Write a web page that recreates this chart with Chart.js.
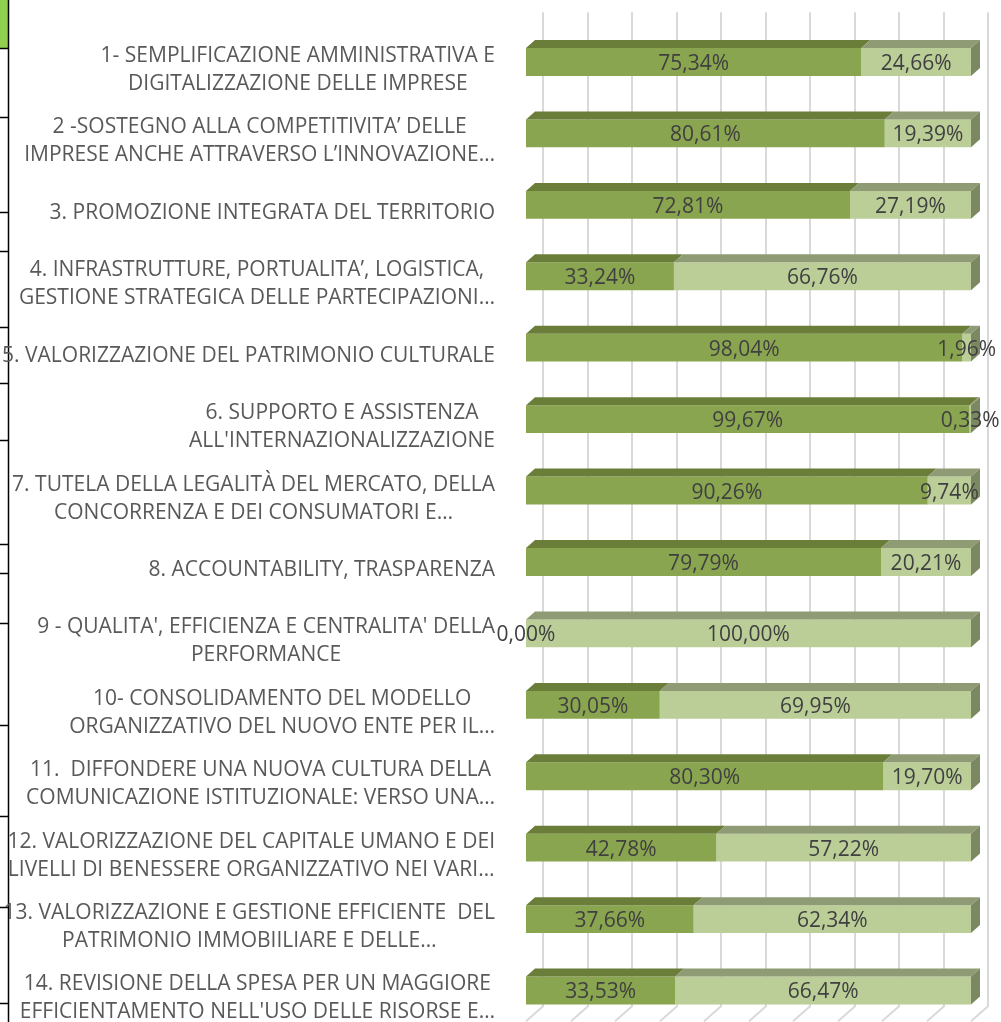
<!DOCTYPE html>
<html>
<head>
<meta charset="utf-8">
<script src="https://cdn.jsdelivr.net/npm/chart.js@4.4.1/dist/chart.umd.min.js"></script>
<style>
  html, body { margin: 0; padding: 0; background: #fff; overflow: hidden; }
  #box { width: 1001px; height: 1040px; }
</style>
</head>
<body>
<div id="box"><canvas id="grafico" width="1001" height="1040"></canvas></div>
<script>
const obiettivi = [
  ["1- SEMPLIFICAZIONE AMMINISTRATIVA E", "DIGITALIZZAZIONE DELLE IMPRESE"],
  ["2 -SOSTEGNO ALLA COMPETITIVITA’ DELLE", "IMPRESE ANCHE ATTRAVERSO L’INNOVAZIONE…"],
  ["3. PROMOZIONE INTEGRATA DEL TERRITORIO"],
  ["4. INFRASTRUTTURE, PORTUALITA’, LOGISTICA,", "GESTIONE STRATEGICA DELLE PARTECIPAZIONI…"],
  ["5. VALORIZZAZIONE DEL PATRIMONIO CULTURALE"],
  ["6. SUPPORTO E ASSISTENZA", "ALL'INTERNAZIONALIZZAZIONE"],
  ["7. TUTELA DELLA LEGALITÀ DEL MERCATO, DELLA", "CONCORRENZA E DEI CONSUMATORI E…"],
  ["8. ACCOUNTABILITY, TRASPARENZA"],
  ["9 - QUALITA', EFFICIENZA E CENTRALITA' DELLA", "PERFORMANCE"],
  ["10- CONSOLIDAMENTO DEL MODELLO", "ORGANIZZATIVO DEL NUOVO ENTE PER IL…"],
  ["11.  DIFFONDERE UNA NUOVA CULTURA DELLA", "COMUNICAZIONE ISTITUZIONALE: VERSO UNA…"],
  ["12. VALORIZZAZIONE DEL CAPITALE UMANO E DEI", "LIVELLI DI BENESSERE ORGANIZZATIVO NEI VARI…"],
  ["13. VALORIZZAZIONE E GESTIONE EFFICIENTE  DEL", "PATRIMONIO IMMOBIILIARE E DELLE…"],
  ["14. REVISIONE DELLA SPESA PER UN MAGGIORE", "EFFICIENTAMENTO NELL'USO DELLE RISORSE E…"]
];

// percentuale raggiunta / non raggiunta per obiettivo
const raggiunto = [75.34, 80.61, 72.81, 33.24, 98.04, 99.67, 90.26, 79.79, 0.00, 30.05, 80.30, 42.78, 37.66, 33.53];
const nonRaggiunto = [24.66, 19.39, 27.19, 66.76, 1.96, 0.33, 9.74, 20.21, 100.00, 69.95, 19.70, 57.22, 62.34, 66.47];

const tickAsse = [0, 10, 20, 30, 40, 50, 60, 70, 80, 90, 100];

const colori = [
  { fronte: "#8AA54F", sopra: "#6A7E3A", lato: "#61743A" },
  { fronte: "#BBCE98", sopra: "#8F9B75", lato: "#7C8862" }
];

const PROF_X = 9, PROF_Y = -8;       // profondita' delle barre 3D
const PARETE_X = 17, PARETE_Y = -15; // spostamento della parete di fondo

function formatarPercentuale(v) {
  return v.toFixed(2).replace(".", ",") + "%";
}

// bordi delle celle del foglio visibili a sinistra
const righeCelle = [48, 117, 212, 251, 327, 383, 440, 544, 573, 623, 725, 816, 907, 1003];

const sfondo = {
  id: "sfondo",
  beforeDatasetsDraw(chart) {
    const ctx = chart.ctx;
    const x = chart.scales.x;
    const area = chart.chartArea;
    ctx.save();

    // cella verde e bordi a sinistra
    ctx.fillStyle = "#92D050";
    ctx.fillRect(0, 0, 8, 48);
    ctx.strokeStyle = "#000";
    ctx.lineWidth = 1.5;
    ctx.beginPath();
    ctx.moveTo(8.5, 0);
    ctx.lineTo(8.5, 1040);
    righeCelle.forEach(y => {
      ctx.moveTo(0, y + 0.5);
      ctx.lineTo(8.5, y + 0.5);
    });
    ctx.stroke();

    // griglia sulla parete di fondo e sul pavimento
    const top = area.top - 14;
    const fondo = area.bottom - 20;
    ctx.strokeStyle = "#D9D9D9";
    ctx.lineWidth = 2;
    ctx.beginPath();
    tickAsse.forEach(v => {
      const px = Math.round(x.getPixelForValue(v) + PARETE_X);
      ctx.moveTo(px, top);
      ctx.lineTo(px, fondo);
      ctx.lineTo(px - PARETE_X, fondo - PARETE_Y);
    });
    ctx.stroke();
    ctx.restore();
  },
  afterDatasetsDraw(chart) {
    const ctx = chart.ctx;
    const area = chart.chartArea;
    const y = chart.scales.y;
    ctx.save();

    // facce superiori e laterali
    const metas = chart.data.datasets.map((d, i) => chart.getDatasetMeta(i));
    raggiunto.forEach((_, idx) => {
      let ultimo = -1;
      metas.forEach((meta, ds) => {
        const bar = meta.data[idx];
        const val = chart.data.datasets[ds].data[idx];
        if (val <= 0) return;
        ultimo = ds;
        const x0 = bar.base, x1 = bar.x, yt = bar.y - bar.height / 2;
        ctx.fillStyle = colori[ds].sopra;
        ctx.beginPath();
        ctx.moveTo(x0, yt);
        ctx.lineTo(x1, yt);
        ctx.lineTo(x1 + PROF_X, yt + PROF_Y);
        ctx.lineTo(x0 + PROF_X, yt + PROF_Y);
        ctx.closePath();
        ctx.fill();
      });
      if (ultimo >= 0) {
        const bar = metas[ultimo].data[idx];
        const x1 = bar.x, yt = bar.y - bar.height / 2, yb = bar.y + bar.height / 2;
        ctx.fillStyle = colori[ultimo].lato;
        ctx.beginPath();
        ctx.moveTo(x1, yt);
        ctx.lineTo(x1 + PROF_X, yt + PROF_Y);
        ctx.lineTo(x1 + PROF_X, yb + PROF_Y);
        ctx.lineTo(x1, yb);
        ctx.closePath();
        ctx.fill();
      }
    });

    // etichette dei valori
    ctx.font = "21px 'Open Sans'";
    ctx.fillStyle = "#404040";
    ctx.textAlign = "center";
    ctx.textBaseline = "middle";
    metas.forEach((meta, ds) => {
      meta.data.forEach((bar, idx) => {
        const val = chart.data.datasets[ds].data[idx];
        ctx.fillText(formatarPercentuale(val), (bar.base + bar.x) / 2, bar.y + 2);
      });
    });

    // etichette delle categorie, righe centrate tra loro
    ctx.font = "21px 'Open Sans'";
    ctx.fillStyle = "#595959";
    const destra = area.left - 31;
    obiettivi.forEach((righe, i) => {
      const larg = Math.max(...righe.map(r => ctx.measureText(r).width));
      const cx = destra - larg / 2;
      const cy = y.getPixelForTick(i) + 8;
      righe.forEach((r, k) => {
        ctx.fillText(r, cx, cy + (k - (righe.length - 1) / 2) * 28);
      });
    });
    ctx.restore();
  }
};

new Chart(document.getElementById("grafico"), {
  type: "bar",
  data: {
    labels: obiettivi,
    datasets: [
      { label: "Raggiunto", data: raggiunto, backgroundColor: colori[0].fronte },
      { label: "Non raggiunto", data: nonRaggiunto, backgroundColor: colori[1].fronte }
    ]
  },
  options: {
    indexAxis: "y",
    responsive: false,
    animation: false,
    devicePixelRatio: 1,
    layout: { padding: { top: 26.3, right: 30, bottom: 13.8, left: 0 } },
    datasets: { bar: { categoryPercentage: 1, barPercentage: 0.39, borderWidth: 0 } },
    plugins: { legend: { display: false }, tooltip: { enabled: false } },
    scales: {
      x: { stacked: true, min: 0, max: 100, display: false, ticks: { stepSize: 10 } },
      y: {
        stacked: true,
        grid: { display: false },
        border: { display: false },
        ticks: { display: false },
        afterFit(scale) { scale.width = 526; }
      }
    }
  },
  plugins: [sfondo]
});
</script>
</body>
</html>
